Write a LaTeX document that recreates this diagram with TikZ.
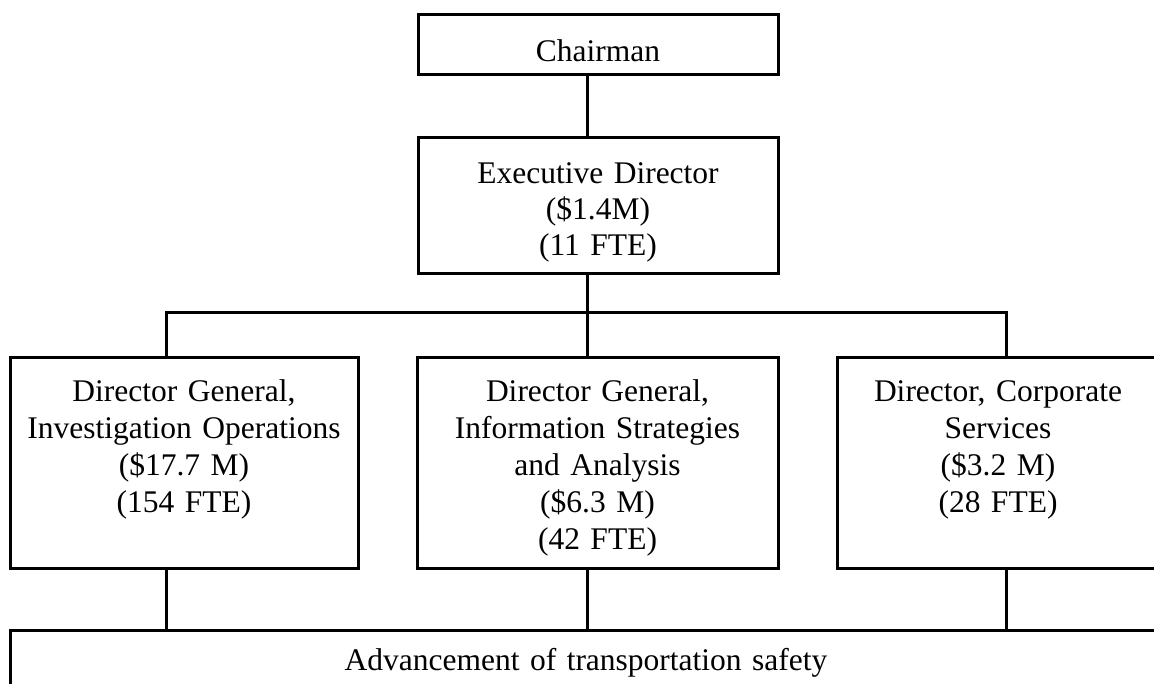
\documentclass[tikz,border=0pt]{standalone}
\usepackage{fontspec}
\setmainfont{Liberation Serif}
\usepackage{tikz}

\begin{document}
\begin{tikzpicture}[x=1pt,y=-1pt]
 \tikzstyle{every node}=[inner sep=0pt, align=center, font=\fontsize{31.5}{37}\selectfont]
 \tikzstyle{office}=[draw, line width=3pt, anchor=north]
 \tikzstyle{director}=[office, text height=44pt, text depth=167pt]
 \tikzstyle{link}=[line width=3pt]
 \useasboundingbox (0,0) rectangle (1154,683);
 \node[office, text width=360pt, text height=46.5pt, text depth=13.5pt] (chair) at (598,13) {Chairman};
 \node[office, text width=360pt, text height=46pt, text depth=90pt,
       font=\fontsize{31.5}{36}\selectfont] (exec) at (598,136)
       {Executive Director\\(\$1.4M)\\(11 FTE)};
 \node[director, text width=348pt] (left) at (184,356)
       {Director General,\\Investigation Operations\\(\$17.7 M)\\(154 FTE)};
 \node[director, text width=361pt] (mid) at (597.5,356)
       {Director General,\\Information Strategies\\and Analysis\\(\$6.3 M)\\(42 FTE)};
 \node[director, text width=322pt] (right) at (998,356)
       {Director, Corporate\\Services\\(\$3.2 M)\\(28 FTE)};
 \node[office, text width=1152pt, text height=40pt, text depth=60pt] (goal) at (586,629)
       {Advancement of transportation safety};
 \coordinate (busL) at (166,312);
 \coordinate (busM) at (587,312);
 \coordinate (busR) at (1006,312);
  \draw[link] (chair.south -| busM) -- (exec.north -| busM);
  \draw[link] (exec.south -| busM) -- (busM);
  \draw[link] (left.north -| busL) -- (busL) -- (busR) -- (right.north -| busR);
  \draw[link] (busM) -- (mid.north -| busM);
  \foreach \n/\c in {left/busL, mid/busM, right/busR}
   \draw[link] (\n.south -| \c) -- (goal.north -| \c);
\end{tikzpicture}
\end{document}
